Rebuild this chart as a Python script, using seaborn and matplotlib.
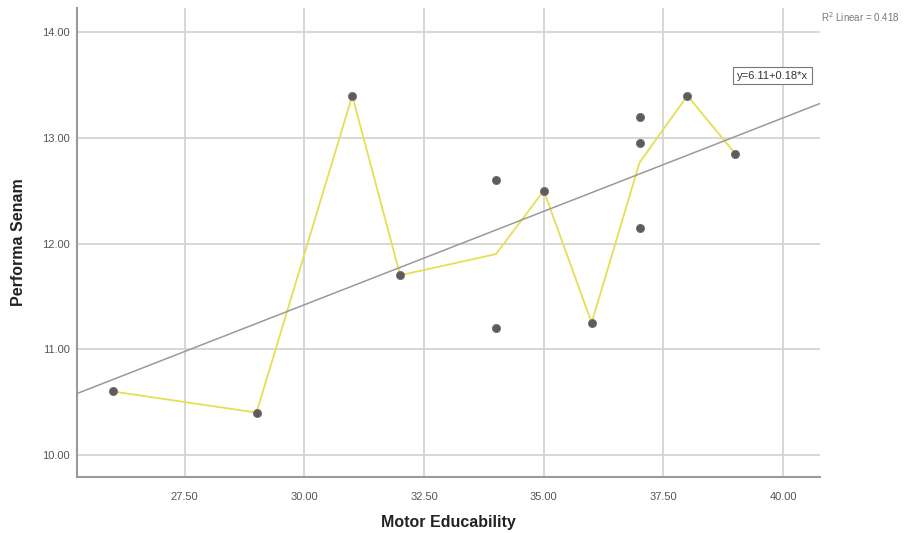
import numpy as np
import pandas as pd
import matplotlib
matplotlib.use("Agg")
import matplotlib.pyplot as plt
import seaborn as sns

# data
motor = [26, 29, 31, 32, 34, 34, 35, 36, 37, 37, 37, 38, 39]
senam = [10.6, 10.4, 13.4, 11.7, 12.6, 11.2, 12.5, 11.25, 13.2, 12.95, 12.15, 13.4, 12.85]
x_ticks = [27.5, 30.0, 32.5, 35.0, 37.5, 40.0]
y_ticks = [10.0, 11.0, 12.0, 13.0, 14.0]
r2_label = "R$^2$ Linear = 0.418"
eq_label = "y=6.11+0.18*x"


def main():
    df = pd.DataFrame({"Motor Educability": motor, "Performa Senam": senam})

    sns.set_style("white")
    plt.rcParams["font.family"] = ["Liberation Sans", "DejaVu Sans"]

    fig = plt.figure(figsize=(9.14, 5.33), dpi=100)
    ax = fig.add_axes([0.0842, 0.105, 0.813, 0.880])
    ax.set_xlim(25.25, 40.77)
    ax.set_ylim(9.79, 14.23)

    ax.set_xticks(x_ticks, labels=[f"{t:.2f}" for t in x_ticks])
    ax.set_yticks(y_ticks, labels=[f"{t:.2f}" for t in y_ticks])
    ax.grid(True, color="#d4d4d4", linewidth=1.3)
    ax.set_axisbelow(True)

    # mean line through the points (yellow)
    sns.lineplot(data=df, x="Motor Educability", y="Performa Senam",
                 estimator="mean", errorbar=None, color="#e8de55",
                 linewidth=1.3, ax=ax, zorder=2)
    # linear fit across the whole axis
    sns.regplot(data=df, x="Motor Educability", y="Performa Senam",
                scatter=False, ci=None, truncate=False,
                line_kws={"color": "#9a9a9a", "linewidth": 1.1}, ax=ax)
    sns.scatterplot(data=df, x="Motor Educability", y="Performa Senam",
                    color="#5c5c5c", edgecolor="#6e6e6e", s=34,
                    linewidth=0.6, ax=ax, zorder=3)

    ax.set_xlim(25.25, 40.77)
    ax.set_ylim(9.79, 14.23)

    for side in ["top", "right"]:
        ax.spines[side].set_visible(False)
    for side in ["left", "bottom"]:
        ax.spines[side].set_color("#9a9a9a")
        ax.spines[side].set_linewidth(1.5)

    ax.tick_params(axis="both", length=0, labelsize=8, colors="#555555")
    ax.tick_params(axis="x", pad=11)
    ax.tick_params(axis="y", pad=5)
    ax.set_xlabel("Motor Educability", fontsize=11.5, fontweight="bold",
                  color="#222222", va="center")
    ax.set_ylabel("Performa Senam", fontsize=11.5, fontweight="bold",
                  color="#222222", va="center")
    ax.xaxis.set_label_coords(0.5, -0.096)
    ax.yaxis.set_label_coords(-0.078, 0.5)

    fig.text(0.898, 0.967, r2_label, fontsize=7, color="#777777",
             ha="left", va="center")
    ax.text(39.78, 13.59, eq_label, fontsize=8, color="#333333",
            ha="center", va="center",
            bbox=dict(boxstyle="square,pad=0.35", facecolor="white",
                      edgecolor="#777777", linewidth=0.8))

    fig.savefig("out.png", dpi=100)


if __name__ == "__main__":
    main()
